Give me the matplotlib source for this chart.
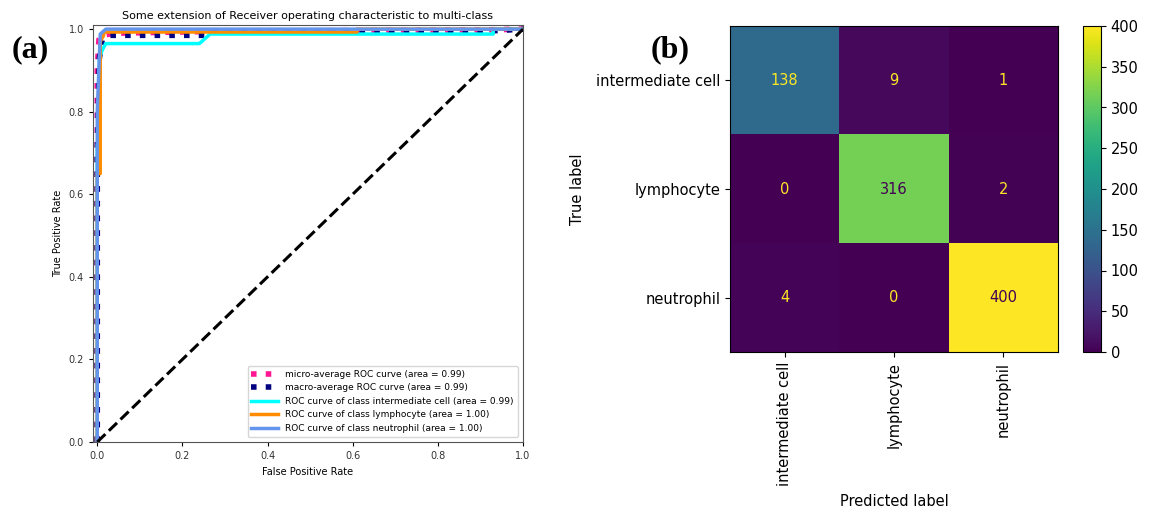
"""ROC curves and confusion matrix for the three-class cell classifier."""

import matplotlib

matplotlib.use("Agg")
import matplotlib.pyplot as plt
import numpy as np

# ROC points per curve (false positive rate, true positive rate)
micro_fpr = [0.0, 0.0, 0.004, 0.012, 0.04, 0.3, 0.9, 1.0]
micro_tpr = [0.0, 0.90, 0.975, 0.985, 0.99, 0.995, 0.998, 1.0]
macro_fpr = [0.0, 0.0, 0.005, 0.012, 0.025, 0.26, 0.27, 0.93, 1.0]
macro_tpr = [0.0, 0.70, 0.93, 0.975, 0.985, 0.985, 0.993, 0.996, 1.0]
inter_fpr = [0.0, 0.0, 0.005, 0.005, 0.012, 0.02, 0.24, 0.265, 0.93, 0.93, 1.0]
inter_tpr = [0.0, 0.72, 0.72, 0.93, 0.95, 0.965, 0.965, 0.988, 0.988, 1.0, 1.0]
lymph_fpr = [0.0, 0.0, 0.007, 0.007, 0.015, 0.015, 0.61, 0.61, 1.0]
lymph_tpr = [0.0, 0.65, 0.65, 0.97, 0.985, 0.993, 0.993, 1.0, 1.0]
neut_fpr = [0.0, 0.0, 0.007, 0.02, 1.0]
neut_tpr = [0.0, 0.80, 0.988, 1.0, 1.0]

class_names = ["intermediate cell", "lymphocyte", "neutrophil"]
class_auc = [0.99, 1.00, 1.00]
micro_auc = 0.99
macro_auc = 0.99

confusion = np.array([
    [138, 9, 1],
    [0, 316, 2],
    [4, 0, 400],
])
colorbar_ticks = [0, 50, 100, 150, 200, 250, 300, 350, 400]

fig = plt.figure(figsize=(11.5, 5.12), dpi=100)

# ---- (a) ROC curves
ax = fig.add_axes([93 / 1150, 70 / 512, 430 / 1150, 417 / 512])
ax.plot(micro_fpr, micro_tpr, color="deeppink", linestyle=":", linewidth=4,
        label=f"micro-average ROC curve (area = {micro_auc:0.2f})")
ax.plot(macro_fpr, macro_tpr, color="navy", linestyle=":", linewidth=4,
        label=f"macro-average ROC curve (area = {macro_auc:0.2f})")
curves = [(inter_fpr, inter_tpr), (lymph_fpr, lymph_tpr), (neut_fpr, neut_tpr)]
for (fpr, tpr), name, auc, color in zip(curves, class_names, class_auc,
                                        ["aqua", "darkorange", "cornflowerblue"]):
    ax.plot(fpr, tpr, color=color, linewidth=2.5,
            label=f"ROC curve of class {name} (area = {auc:0.2f})")
ax.plot([0, 1], [0, 1], "k--", linewidth=2.2)
ax.set_xlim(-0.01, 1.0)
ax.set_ylim(0.0, 1.01)
ax.set_xlabel("False Positive Rate", fontsize=7)
ax.set_ylabel("True Positive Rate", fontsize=7)
ax.set_title("Some extension of Receiver operating characteristic to multi-class",
             fontsize=8, pad=4)
ax.tick_params(labelsize=7, length=3, labelcolor="#333333")
ax.legend(loc="lower right", fontsize=6.5, handlelength=3, borderaxespad=0.6)
for spine in ax.spines.values():
    spine.set_color("#555555")

# ---- (b) confusion matrix
cm_ax = fig.add_axes([730 / 1150, 160 / 512, 328 / 1150, 326 / 512])
image = cm_ax.imshow(confusion, cmap="viridis", vmin=confusion.min(),
                     vmax=confusion.max(), aspect="auto")
cmap = image.cmap
threshold = (confusion.max() + confusion.min()) / 2.0
for i in range(confusion.shape[0]):
    for j in range(confusion.shape[1]):
        value = confusion[i, j]
        text_color = cmap(0.0) if value > threshold else cmap(1.0)
        cm_ax.text(j, i, f"{value}", ha="center", va="center",
                   color=text_color, fontsize=10.5)
cm_ax.set_xticks(range(len(class_names)))
cm_ax.set_yticks(range(len(class_names)))
cm_ax.set_xticklabels(class_names, rotation=90, fontsize=10.5)
cm_ax.set_yticklabels(class_names, fontsize=10.5)
cm_ax.set_xlabel("Predicted label", fontsize=10.5, labelpad=6)
cm_ax.set_ylabel("True label", fontsize=10.5, labelpad=8)

cb_ax = fig.add_axes([1083 / 1150, 160 / 512, 18 / 1150, 326 / 512])
cbar = fig.colorbar(image, cax=cb_ax, ticks=colorbar_ticks)
cbar.ax.tick_params(labelsize=10.5)

# panel letters
fig.text(12 / 1150, 1 - 50 / 512, "(a)", fontsize=23, fontweight="bold",
         family="Liberation Serif", va="center")
fig.text(651 / 1150, 1 - 50 / 512, "(b)", fontsize=23, fontweight="bold",
         family="Liberation Serif", va="center")

fig.savefig("out.png", dpi=100)
